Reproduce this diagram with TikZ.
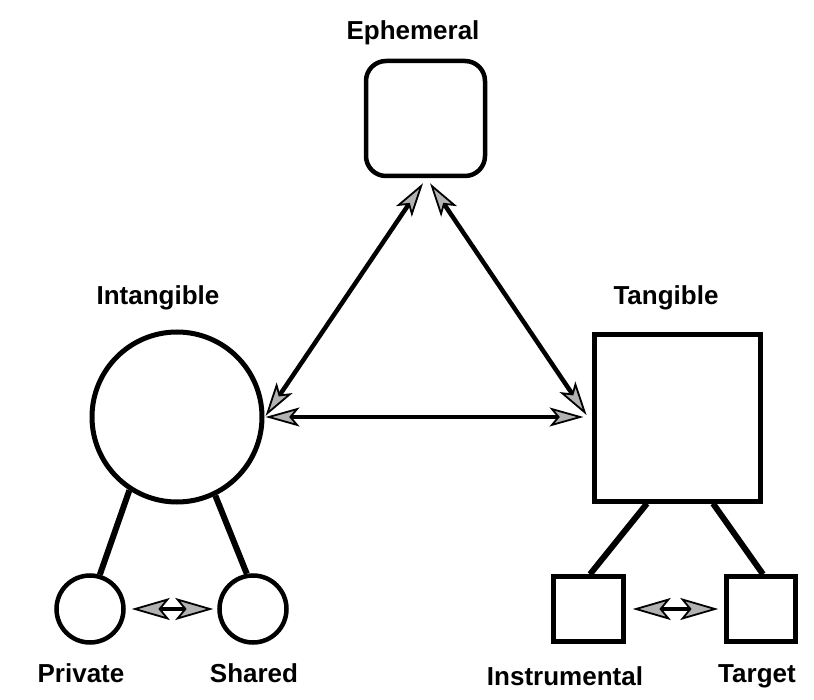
\documentclass[tikz,border=0pt]{standalone}
\usepackage{fontspec}
\setmainfont{Liberation Sans}
\usetikzlibrary{arrows.meta,calc}
\begin{document}
\begin{tikzpicture}[x=1pt,y=-1pt,
  lbl/.style={font=\fontsize{26}{30}\selectfont\bfseries, inner sep=0pt},
  shapebox/.style={draw=black, line width=4.5pt, inner sep=0pt},
  bighead/.tip={Stealth[length=34pt,width=19pt,inset=8pt,line width=1.8pt,fill=gray!60]},
  smallhead/.tip={Stealth[length=38pt,width=22pt,inset=9pt,line width=1.8pt,fill=gray!60]},
  bigarrow/.style={line width=4.5pt, draw=black, bighead-bighead},
  smallarrow/.style={line width=4.5pt, draw=black, smallhead-smallhead},
  conn/.style={line width=6pt, draw=black}
]
\useasboundingbox (0,0) rectangle (814,700);
\fill[white] (0,0) rectangle (814,700);

% shapes
\node[shapebox, rectangle, rounded corners=20pt, minimum width=119pt, minimum height=115pt] (eph) at (425.5,118.5) {};
\node[shapebox, circle, line width=5pt, minimum size=170pt] (int) at (177,417) {};
\node[shapebox, rectangle, line width=5pt, minimum width=166pt, minimum height=166pt] (tan) at (677,418) {};
\node[shapebox, circle, minimum size=67pt] (priv) at (90,609) {};
\node[shapebox, circle, minimum size=67pt] (shar) at (253,609) {};
\node[shapebox, rectangle, minimum width=70pt, minimum height=65pt] (inst) at (588.5,609) {};
\node[shapebox, rectangle, minimum width=69pt, minimum height=65pt] (targ) at (761,609) {};

% labels
\node[lbl] (lEph) at (413,33) {Ephemeral};
\node[lbl] (lInt) at (158,298) {Intangible};
\node[lbl] (lTan) at (666,298) {Tangible};
\node[lbl] (lPriv) at (81,673) {Private};
\node[lbl] (lShar) at (254,673) {Shared};
\node[lbl] (lInst) at (565,676) {Instrumental};
\node[lbl] (lTarg) at (757,676) {Target};

% main arrows
\draw[bigarrow] ($(eph.south)+(-2.5,5)$) -- ($(int.east)+(1,-1)$);
\draw[bigarrow] ($(eph.south)+(4.5,5)$) -- ($(tan.west)+(-5,-3)$);
\draw[bigarrow] ($(int.east)+(1,0)$) -- ($(tan.west)+(-8,-1)$);

% connectors
\draw[conn] (int.-123) -- (priv.74);
\draw[conn] (int.-64) -- (shar.100);
\draw[conn] ($(tan.south)+(-30,0)$) -- ($(inst.north)+(1.5,0)$);
\draw[conn] ($(tan.south)+(36,0)$) -- ($(targ.north)+(2,0)$);

% small arrows
\draw[smallarrow, shorten <=6pt, shorten >=4pt] (priv.east) -- (shar.west);
\draw[smallarrow, shorten <=7pt, shorten >=6pt] (inst.east) -- (targ.west);
\end{tikzpicture}
\end{document}
